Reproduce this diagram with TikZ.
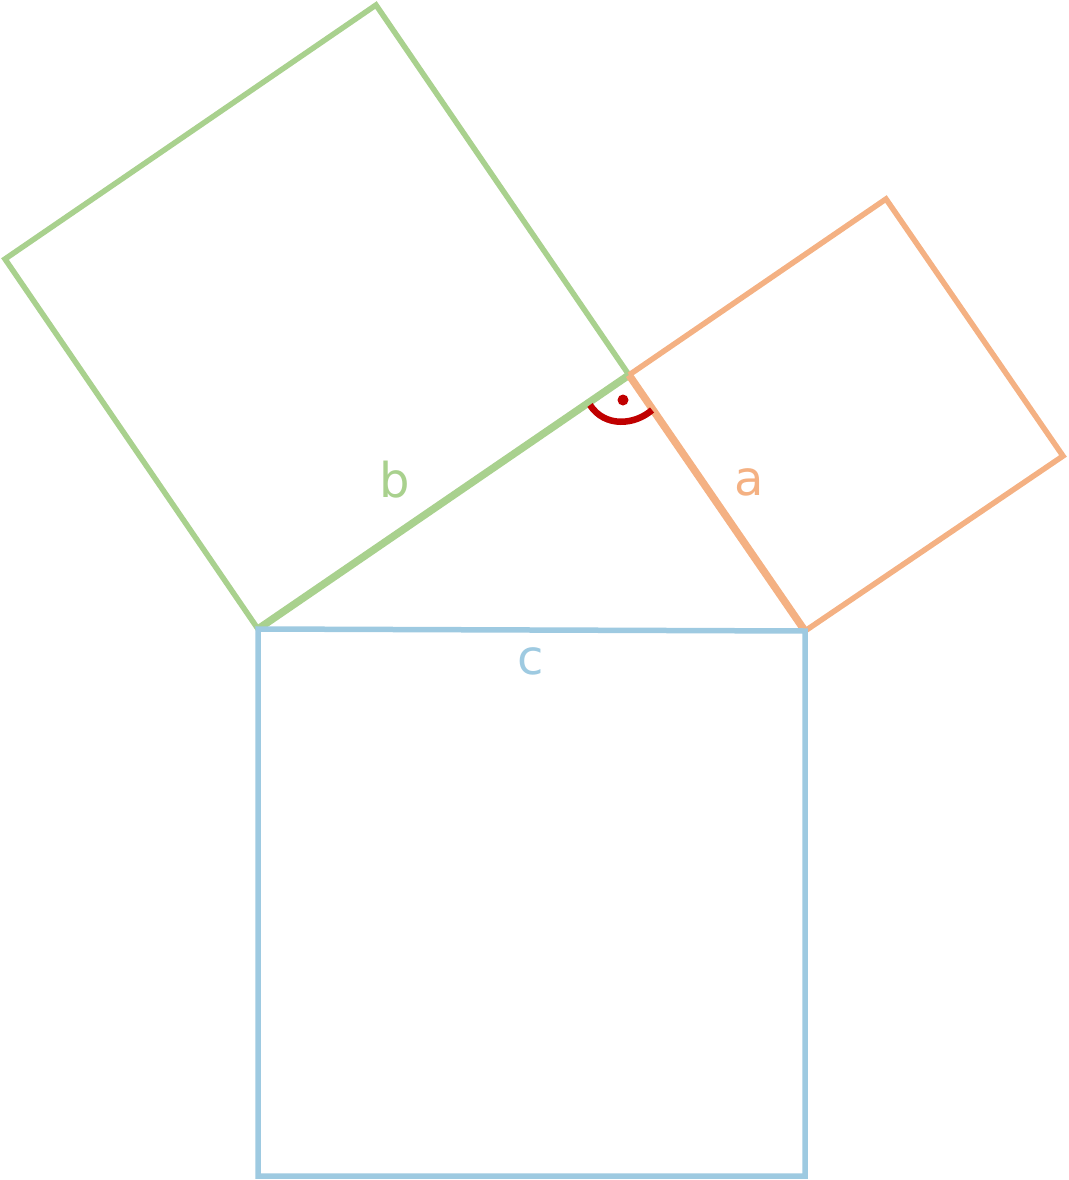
\documentclass[tikz,border=0pt]{standalone}
\usepackage{fontspec}
\setmainfont{DejaVu Sans}
\begin{document}
\begin{tikzpicture}[x=1pt,y=-1pt,line join=miter,
  sq/.style={line width=5.5pt},
  lbl/.style={font=\fontsize{48}{52}\selectfont}]
\definecolor{gr}{HTML}{A9D18E}
\definecolor{or}{HTML}{F4B183}
\definecolor{bl}{HTML}{9ECAE1}
\definecolor{rd}{HTML}{C00000}
\useasboundingbox (0,0) rectangle (1068,1180);
\coordinate (A) at (258,629);
\coordinate (B) at (805,631);
\coordinate (C) at (629,375);
\draw[sq,gr] (A) -- (C) -- (376,5) -- (5,259) -- cycle;
\draw[sq,or] (C) -- (886,199) -- (1063,456) -- (B) -- cycle;
\draw[gr,line width=7.5pt] (A) -- (C);
\draw[or,line width=7.5pt] (C) -- (B);
\draw[sq,bl] (A) -- (B) -- (805,1176) -- (258,1176) -- cycle;
\draw[rd,line width=6.5pt] (590,405) .. controls (605,428) and (635,425) .. (652,410);
\fill[rd] (623,400) circle (5.5);
\node[lbl,text=gr] (b) at (395,480) {b};
\node[lbl,text=or] (a) at (749,482) {a};
\node[lbl,text=bl] (c) at (531,661) {c};
\end{tikzpicture}
\end{document}
